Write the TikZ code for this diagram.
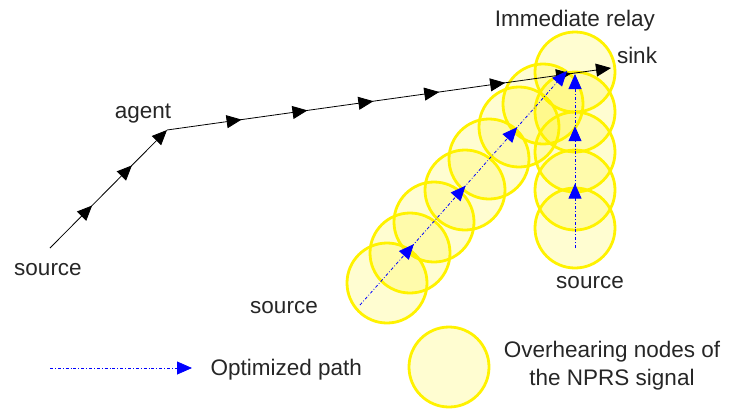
\documentclass[tikz,border=0pt]{standalone}
\usepackage{fontspec}
\setmainfont{Liberation Sans}
\usetikzlibrary{arrows.meta,decorations.markings}

\definecolor{ring}{RGB}{255,242,0}
\definecolor{optblue}{RGB}{0,0,255}
\tikzset{hoptip/.tip={Triangle[length=15pt,width=13pt]}}

\begin{document}
\begin{tikzpicture}[x=1pt,y=-1pt,
  relay/.style={circle,draw=ring,line width=2.8pt,fill=yellow,
    fill opacity=0.18,minimum size=80pt,inner sep=0pt},
  lbl/.style={font=\fontsize{22.5}{28}\selectfont,anchor=base,text=black!85},
  hops/.style={black,line width=0.8pt,-hoptip,postaction={decorate},
    decoration={markings,#1}},
  optpath/.style={optblue,line width=0.8pt,dash dot,-hoptip,
    postaction={decorate},decoration={markings,#1}}]
\useasboundingbox (0,0) rectangle (730,408);
% overhearing nodes
\node[relay] (d1) at (387,283) {};
\node[relay] (d2) at (410,253) {};
\node[relay] (d3) at (434,222) {};
\node[relay] (d4) at (465,190) {};
\node[relay] (d5) at (489,159) {};
\node[relay] (d6) at (519,127) {};
\node[relay] (d7) at (543,104) {};
\node[relay] (v1) at (575,228) {};
\node[relay] (v2) at (575,190) {};
\node[relay] (v3) at (575,152) {};
\node[relay] (v4) at (575,112) {};
\node[relay] (top) at (575,72) {};
% path through the agent
\coordinate (srcA) at (50,248);
\coordinate (agentpt) at (167,130);
\coordinate (sinkpt) at (611,68);
\draw[hops={mark=at position 0.36 with {\arrow{hoptip}},
  mark=at position 0.70 with {\arrow{hoptip}}}] (srcA) -- (agentpt);
\draw[hops={mark=between positions 0.168 and 0.912 step 0.1484
  with {\arrow{hoptip}}}] (agentpt) -- (sinkpt);
% optimized paths
\coordinate (srcB) at (360,305);
\coordinate (relayB) at (567,71);
\coordinate (srcC) at (575,248);
\coordinate (relayC) at (575,74);
\draw[optpath={mark=between positions 0.26 and 0.77 step 0.25
  with {\arrow{hoptip}}}] (srcB) -- (relayB);
\draw[optpath={mark=at position 0.37 with {\arrow{hoptip}},
  mark=at position 0.70 with {\arrow{hoptip}}}] (srcC) -- (relayC);
% labels
\node[lbl] (relaytxt) at (575,26) {Immediate relay};
\node[lbl] (sinktxt) at (637,63) {sink};
\node[lbl] (agenttxt) at (143,118) {agent};
\node[lbl] (srcAtxt) at (48,275) {source};
\node[lbl] (srcBtxt) at (284,313) {source};
\node[lbl] (srcCtxt) at (590,288) {source};
% legend
\coordinate (keyA) at (50,368);
\coordinate (keyB) at (192,368);
\draw[optpath={}] (keyA) -- (keyB);
\node[lbl,anchor=base west] (keyBtxt) at (207,375) {Optimized path};
\node[relay] (keyC) at (449,367) {};
\node[lbl,align=center] (keyCtxt)
  at (612,385) {Overhearing nodes of\\the NPRS signal};
\end{tikzpicture}
\end{document}
